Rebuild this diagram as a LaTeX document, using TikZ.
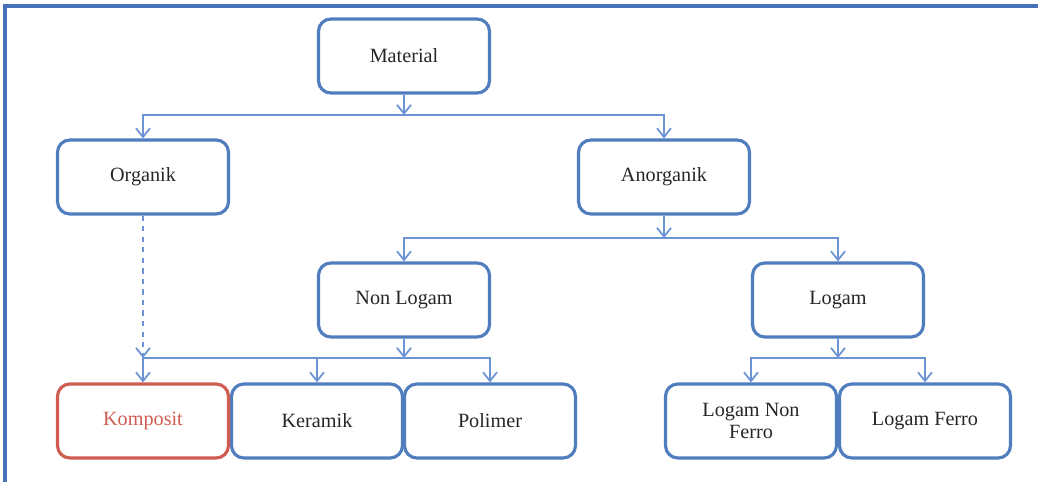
\documentclass[tikz,border=0pt]{standalone}
\usepackage{fontspec}
\setmainfont{Liberation Serif}
\usetikzlibrary{arrows.meta}
\definecolor{boxblue}{RGB}{79,125,190}
\definecolor{lineblue}{RGB}{108,148,212}
\definecolor{boxred}{RGB}{208,92,82}
\definecolor{frameblue}{RGB}{72,112,182}
\tikzstyle{box}=[rectangle,rounded corners=7pt,draw=boxblue,line width=1.8pt,fill=white,minimum width=3.42cm,minimum height=1.48cm,align=center,text=black!85,font=\fontsize{11.5}{13}\selectfont]
\tikzstyle{redbox}=[box,draw=boxred,text=boxred]
\tikzstyle{edge} = [draw,lineblue,line width=1pt,-{Straight Barb[length=5pt,width=8pt]}]
\tikzstyle{frame} = [draw,frameblue,line width=1.8pt]

\begin{document}
\begin{tikzpicture}[x=0.02cm,y=-0.02cm]

  \useasboundingbox (0,0) rectangle (1038,482);
  \path[frame] (5,482) -- (5,6) -- (1038,6);

  \foreach \x/\y/\name/\label in {404/56/material/Material, 143/177/organik/Organik, 664/177/anorganik/Anorganik,
      404/300/nonlogam/Non Logam, 838/300/logam/Logam, 317/421/keramik/Keramik, 490/421/polimer/Polimer,
      751/421/logamnonferro/{Logam Non\\Ferro}, 925/421/logamferro/Logam Ferro}
          \node[box] (\name) at (\x,\y) {\label};
  \node[redbox] (komposit) at (143,421) {Komposit};

  \foreach \x/\y/\name in {404/115/j1, 664/238/j2, 404/358/j3, 143/358/j4, 838/358/j5}
          \coordinate (\name) at (\x,\y);

  \foreach \source/ \dest in {material/j1, anorganik/j2, nonlogam/j3, logam/j5}
         \path[edge] (\source) -- (\dest);

  \foreach \source/ \dest in {j1/organik, j1/anorganik, j2/nonlogam, j2/logam,
      j3/komposit, j3/keramik, j3/polimer, j5/logamnonferro, j5/logamferro}
         \path[edge] (\source) -| (\dest);

  \path[edge,dashed] (organik) -- (j4);

\end{tikzpicture}
\end{document}
